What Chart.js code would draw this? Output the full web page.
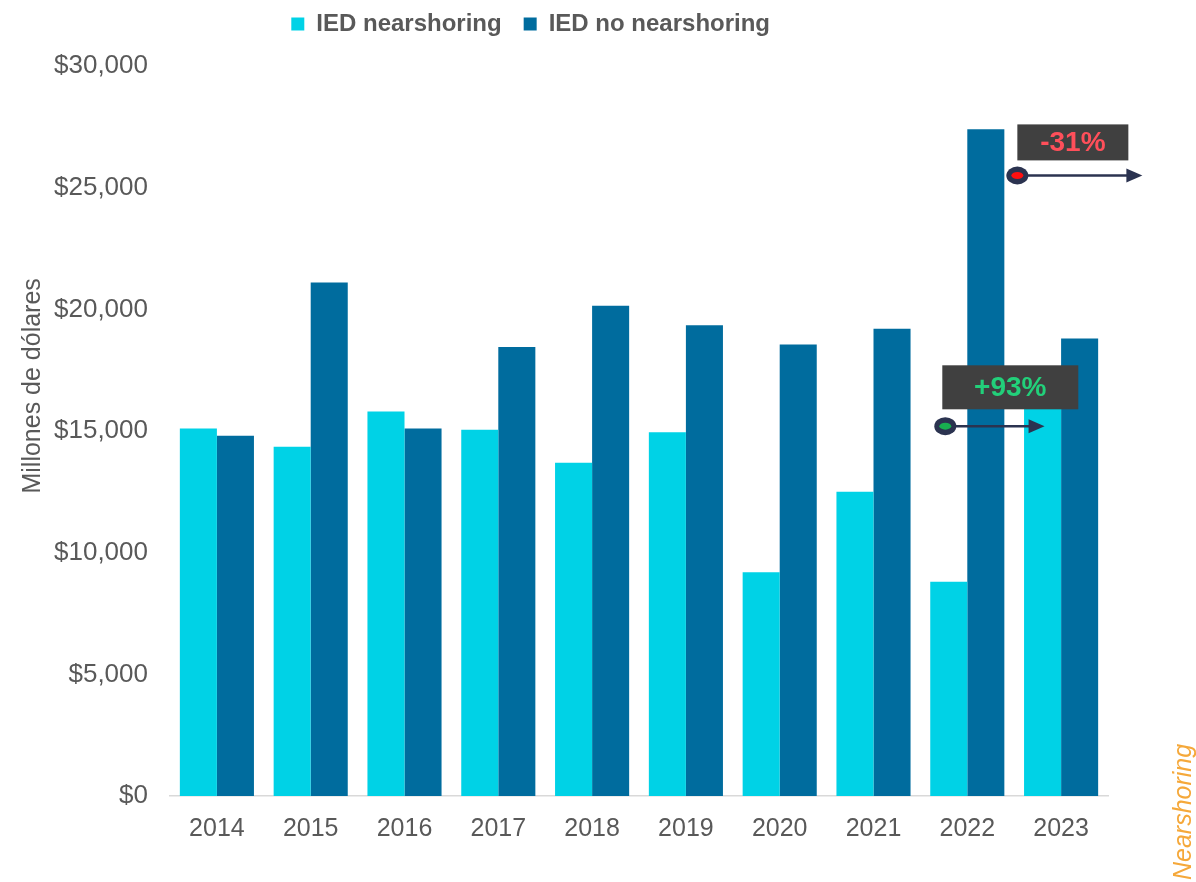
<!DOCTYPE html>
<html>
<head>
<meta charset="utf-8">
<script src="https://cdn.jsdelivr.net/npm/chart.js@4"></script>
<style>
  html, body { margin: 0; padding: 0; background: #fff; }
  #wrap { position: relative; width: 1196px; height: 882px; }
  #side {
    position: absolute; left: 1168px; top: 880px;
    transform: rotate(-90deg); transform-origin: 0 0;
    font: italic 25px "Liberation Sans", Arial, sans-serif; color: #f5a83a;
    white-space: nowrap;
  }
</style>
</head>
<body>
<div id="wrap">
  <canvas id="chart" width="1196" height="882"></canvas>
  <div id="side">Nearshoring</div>
</div>
<script>
// Datos (millones de dólares)
const anios = ["2014", "2015", "2016", "2017", "2018", "2019", "2020", "2021", "2022", "2023"];
const iedNearshoring = [15100, 14350, 15800, 15050, 13700, 14950, 9200, 12500, 8800, 17000];
const iedNoNearshoring = [14800, 21100, 15100, 18450, 20150, 19350, 18550, 19200, 27400, 18800];
const variaciones = ["+93%", "-31%"];

const FONT = '"Liberation Sans", Arial, sans-serif';
const GRIS = "#595959";

// Cajas con flechas (-31% / +93%)
const anotaciones = {
  id: "anotaciones",
  afterDatasetsDraw(chart) {
    const c = chart.ctx;
    const y = chart.scales.y;
    const n0 = chart.getDatasetMeta(0).data;
    const n1 = chart.getDatasetMeta(1).data;
    const i22 = anios.indexOf("2022"), i23 = anios.indexOf("2023");

    const flecha = (x1, yy, x2, dot) => {
      c.save();
      c.strokeStyle = "#2b3350";
      c.fillStyle = "#2b3350";
      c.lineWidth = 2.5;
      c.beginPath(); c.moveTo(x1, yy); c.lineTo(x2 - 12, yy); c.stroke();
      c.beginPath(); c.moveTo(x2, yy); c.lineTo(x2 - 16, yy - 7); c.lineTo(x2 - 16, yy + 7); c.closePath(); c.fill();
      c.beginPath(); c.ellipse(x1, yy, 11, 9, 0, 0, Math.PI * 2); c.fill();
      c.fillStyle = dot;
      c.beginPath(); c.ellipse(x1, yy, 6, 3.5, 0, 0, Math.PI * 2); c.fill();
      c.restore();
    };
    const caja = (x, top, w, h, txt, color) => {
      c.save();
      c.fillStyle = "#404040";
      c.fillRect(x, top, w, h);
      c.fillStyle = color;
      c.font = "bold 28px " + FONT;
      c.textAlign = "center";
      c.textBaseline = "middle";
      c.fillText(txt, x + w / 2, top + h / 2 + 1);
      c.restore();
    };

    // -31%: desde el pico 2022 hacia 2023
    const b22 = n1[i22];
    const yA = y.getPixelForValue(25500);
    caja(b22.x + b22.width / 2 + 13, y.getPixelForValue(27600), 111, 36, variaciones[1], "#ff4f5a");
    flecha(b22.x + b22.width / 2 + 13, yA, b22.x + b22.width / 2 + 138, "#ff1010");

    // +93%: de 2022 nearshoring a 2023 nearshoring
    const b23 = n0[i23];
    const yB = y.getPixelForValue(15200);
    caja(b22.x - b22.width / 2 - 25, y.getPixelForValue(17700), 136, 44, variaciones[0], "#22d07a");
    flecha(b22.x - b22.width / 2 - 22, yB, b23.x + 2, "#18b050");
  }
};

// Margen bajo la leyenda
const margenLeyenda = {
  id: "margenLeyenda",
  beforeInit(chart) {
    const fit = chart.legend.fit;
    chart.legend.fit = function () {
      fit.bind(chart.legend)();
      this.height = 76;
    };
  }
};

new Chart(document.getElementById("chart").getContext("2d"), {
  type: "bar",
  data: {
    labels: anios,
    datasets: [
      { label: "IED nearshoring", data: iedNearshoring, backgroundColor: "#00d2e6",
        categoryPercentage: 0.79, barPercentage: 1.0 },
      { label: "IED no nearshoring", data: iedNoNearshoring, backgroundColor: "#006c9e",
        categoryPercentage: 0.79, barPercentage: 1.0 }
    ]
  },
  options: {
    responsive: false,
    animation: false,
    layout: { padding: { left: 0, right: 88, top: -10, bottom: 0 } },
    plugins: {
      legend: {
        position: "top",
        align: "center",
        labels: {
          color: GRIS,
          font: { family: FONT, size: 24, weight: "bold" },
          boxWidth: 13, boxHeight: 13, padding: 22,
          generateLabels(chart) {
            return chart.data.datasets.map((d, i) => ({
              // espacios finales para desplazar la leyenda a la izquierda
              text: d.label + (i === 1 ? "\u00a0".repeat(7) : ""),
              fillStyle: d.backgroundColor, strokeStyle: d.backgroundColor,
              lineWidth: 0, datasetIndex: i, fontColor: GRIS
            }));
          }
        }
      },
      tooltip: { enabled: false }
    },
    scales: {
      x: {
        grid: { display: false, drawTicks: false },
        border: { color: "#d9d9d9", width: 1.5 },
        ticks: { color: GRIS, font: { family: FONT, size: 25 }, padding: 18 },
        afterFit(s) { s.height = 86; }
      },
      y: {
        min: 0, max: 30000,
        grid: { display: false, drawTicks: false },
        border: { display: false },
        ticks: {
          stepSize: 5000, color: GRIS, padding: 22,
          font: { family: FONT, size: 26 },
          callback: v => "$" + v.toLocaleString("en-US")
        },
        title: {
          display: true, text: "\u00a0".repeat(13) + "Millones de dólares", color: GRIS,
          font: { family: FONT, size: 25 }, padding: { top: 18, bottom: 0 }
        },
        afterFit(s) { s.width = 170; }
      }
    }
  },
  plugins: [margenLeyenda, anotaciones]
});
</script>
</body>
</html>
